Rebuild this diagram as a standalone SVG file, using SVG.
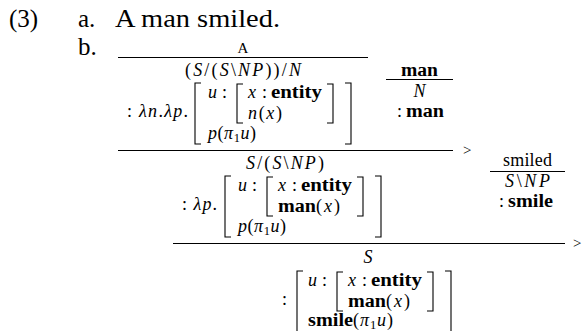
<svg xmlns="http://www.w3.org/2000/svg" width="584" height="331" viewBox="0 0 584 331">
<style>
.t{font-family:"Liberation Serif","Times New Roman",serif;font-size:18px;fill:#000}
.big{font-size:25px}
.sm{font-size:15px}
.i{font-style:italic}
.b{font-weight:bold}
.sub{font-size:12.5px}
.rule{stroke:#000;stroke-width:1;fill:none}
.br{stroke:#000;stroke-width:1.1;fill:none}
</style>
<rect width="584" height="331" fill="#fff"/>

<g id="example-header">
<text class="t big" x="9" y="27">(3)</text>
<text class="t big" x="78" y="27">a.</text>
<text class="t big" x="115" y="27" textLength="165" lengthAdjust="spacingAndGlyphs">A man smiled.</text>
<text class="t big" x="78" y="55">b.</text>
</g>

<g id="connectors">
<line class="rule" x1="118" y1="57.5" x2="368" y2="57.5"/>
<line class="rule" x1="386" y1="79.5" x2="453" y2="79.5"/>
<line class="rule" x1="118" y1="150.5" x2="453" y2="150.5"/>
<line class="rule" x1="490" y1="171.5" x2="565" y2="171.5"/>
<line class="rule" x1="173" y1="243.5" x2="565" y2="243.5"/>
<text class="t sm" x="463" y="155">&gt;</text>
<text class="t sm" x="573" y="248">&gt;</text>
</g>

<g id="node-a">
<text class="t sm" x="243" y="53" text-anchor="middle">A</text>
<text class="t" x="185" y="76" textLength="116" lengthAdjust="spacing">(<tspan class="i">S</tspan>/(<tspan class="i">S</tspan>\<tspan class="i">NP</tspan>))/<tspan class="i">N</tspan></text>
<text class="t" x="127" y="117" textLength="61" lengthAdjust="spacing">: <tspan class="i">λn</tspan>.<tspan class="i">λp</tspan>.</text>
<path class="br" d="M201 83H195V144H201M345 83H351V144H345"/>
<path class="br" d="M243 84H237V123H243M327 84H333V123H327"/>
<text class="t i" x="208" y="98">u</text>
<text class="t" x="222" y="98">:</text>
<text class="t i" x="248" y="98">x</text>
<text class="t" x="262" y="98">:</text>
<text class="t b" x="271" y="98" textLength="51" lengthAdjust="spacingAndGlyphs">entity</text>
<text class="t" x="248" y="119" textLength="34" lengthAdjust="spacing"><tspan class="i">n</tspan>(<tspan class="i">x</tspan>)</text>
<text class="t" x="208" y="139" textLength="48" lengthAdjust="spacing"><tspan class="i">p</tspan>(<tspan class="i">π</tspan><tspan class="sub" dy="3">1</tspan><tspan class="i" dy="-3">u</tspan>)</text>
</g>

<g id="node-man">
<text class="t b" x="401" y="76" textLength="37" lengthAdjust="spacingAndGlyphs">man</text>
<text class="t i" x="419.5" y="97" text-anchor="middle">N</text>
<text class="t" x="397" y="117">:</text>
<text class="t b" x="406" y="117" textLength="38" lengthAdjust="spacingAndGlyphs">man</text>
</g>

<g id="node-a-man">
<text class="t" x="246" y="169" textLength="78" lengthAdjust="spacing"><tspan class="i">S</tspan>/(<tspan class="i">S</tspan>\<tspan class="i">NP</tspan>)</text>
<text class="t" x="182" y="210" textLength="35" lengthAdjust="spacing">: <tspan class="i">λp</tspan>.</text>
<path class="br" d="M231 176H225V237H231M375 176H381V237H375"/>
<path class="br" d="M273 177H267V216H273M357 177H363V216H357"/>
<text class="t i" x="238" y="191">u</text>
<text class="t" x="252" y="191">:</text>
<text class="t i" x="278" y="191">x</text>
<text class="t" x="292" y="191">:</text>
<text class="t b" x="301" y="191" textLength="51" lengthAdjust="spacingAndGlyphs">entity</text>
<text class="t b" x="278" y="212" textLength="38" lengthAdjust="spacingAndGlyphs">man</text>
<text class="t" x="316" y="212" textLength="24" lengthAdjust="spacing">(<tspan class="i">x</tspan>)</text>
<text class="t" x="238" y="232" textLength="48" lengthAdjust="spacing"><tspan class="i">p</tspan>(<tspan class="i">π</tspan><tspan class="sub" dy="3">1</tspan><tspan class="i" dy="-3">u</tspan>)</text>
</g>

<g id="node-smiled">
<text class="t" x="503" y="166" textLength="49" lengthAdjust="spacing">smiled</text>
<text class="t" x="505" y="187" textLength="45" lengthAdjust="spacing"><tspan class="i">S</tspan>\<tspan class="i">NP</tspan></text>
<text class="t" x="499" y="207">:</text>
<text class="t b" x="508" y="207" textLength="45" lengthAdjust="spacingAndGlyphs">smile</text>
</g>

<g id="node-s">
<text class="t i" x="368" y="263" text-anchor="middle">S</text>
<text class="t" x="282" y="305">:</text>
<path class="br" d="M303 271H297V332H303M445 271H451V332H445"/>
<path class="br" d="M343 272H337V311H343M427 272H433V311H427"/>
<text class="t i" x="308" y="286">u</text>
<text class="t" x="322" y="286">:</text>
<text class="t i" x="348" y="286">x</text>
<text class="t" x="362" y="286">:</text>
<text class="t b" x="371" y="286" textLength="51" lengthAdjust="spacingAndGlyphs">entity</text>
<text class="t b" x="348" y="307" textLength="38" lengthAdjust="spacingAndGlyphs">man</text>
<text class="t" x="386" y="307" textLength="24" lengthAdjust="spacing">(<tspan class="i">x</tspan>)</text>
<text class="t b" x="308" y="326" textLength="45" lengthAdjust="spacingAndGlyphs">smile</text>
<text class="t" x="353" y="326" textLength="40" lengthAdjust="spacing">(<tspan class="i">π</tspan><tspan class="sub" dy="2.5">1</tspan><tspan class="i" dy="-2.5">u</tspan>)</text>
</g>
</svg>
